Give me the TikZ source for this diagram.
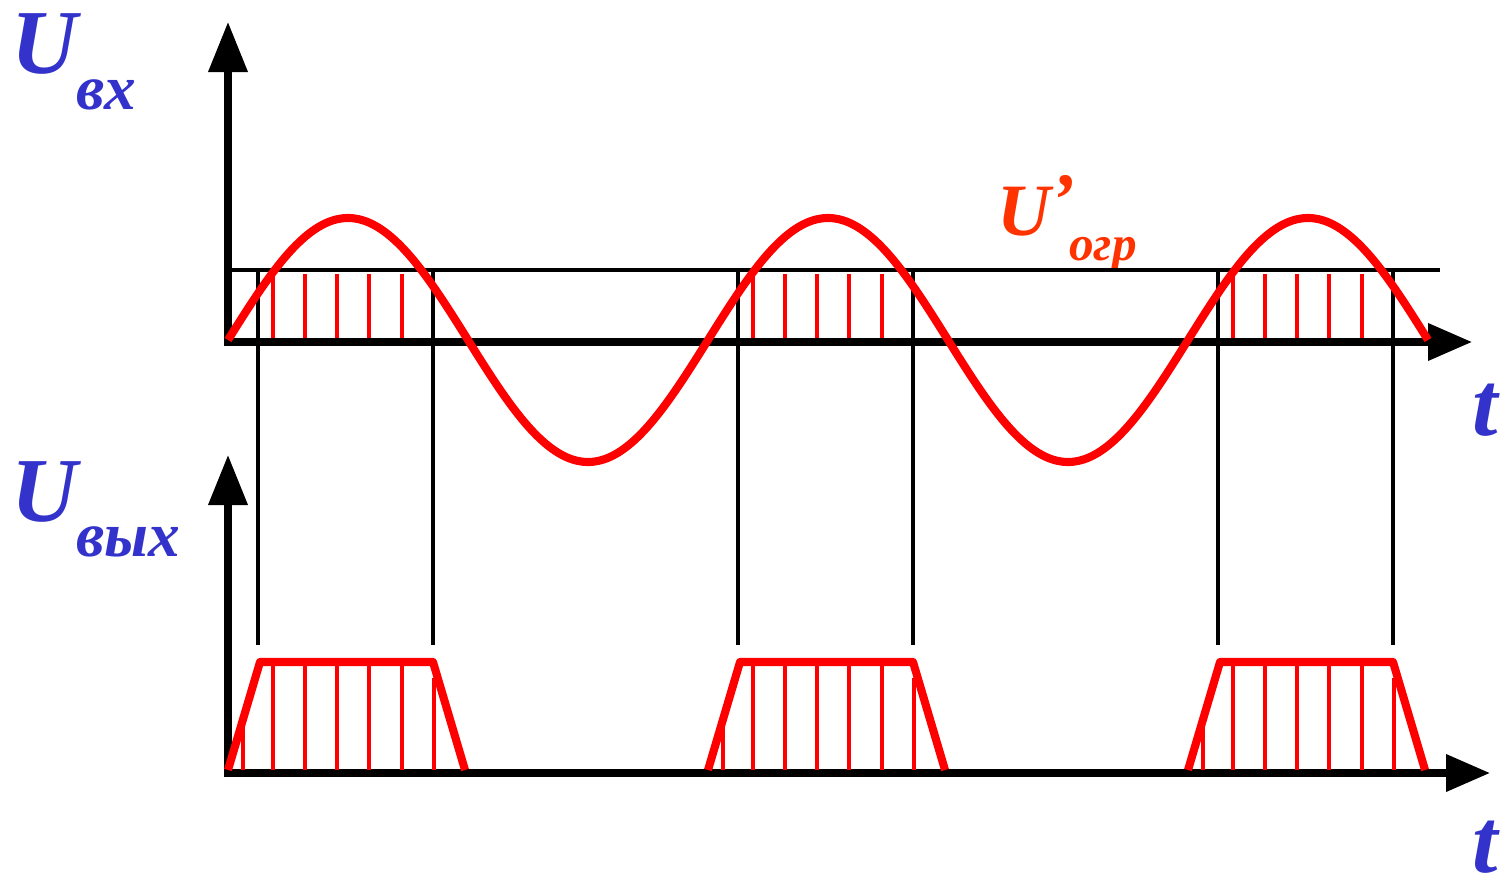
\documentclass[tikz,border=0pt]{standalone}
\usepackage{fontspec}
\setmainfont{Liberation Serif}
\usetikzlibrary{arrows.meta}
\definecolor{labelblue}{RGB}{51,51,204}
\definecolor{limitred}{RGB}{255,51,0}

\begin{document}
\begin{tikzpicture}[x=0.01cm, y=-0.01cm,
		axis/.style={line width=2pt, {Triangle[length=5mm, width=3.8mm]}-{Triangle[length=4.4mm, width=3.6mm]}},
		level/.style={line width=0.9pt},
		marker/.style={line width=1.2pt},
		signal/.style={line width=2.3pt, red, line join=round},
		hatch/.style={line width=1.3pt, red},
		biglabel/.style={inner sep=0pt, text=labelblue, font=\fontsize{26}{26}\selectfont\bfseries\itshape},
		sublabel/.style={inner sep=0pt, text=labelblue, font=\fontsize{18}{18}\selectfont\bfseries\itshape},
		limitlabel/.style={inner sep=0pt, text=limitred, font=\fontsize{21}{21}\selectfont\bfseries\itshape},
		limitsub/.style={inner sep=0pt, text=limitred, font=\fontsize{14}{14}\selectfont\bfseries\itshape}
		]
		\useasboundingbox (0,0) rectangle (1504,885);
		
		% Labels
		\node[biglabel] (uin) at (45,44) {U};
		\node[sublabel] (uinsub) at (106,95) {вх};
		\node[biglabel] (uout) at (45,492) {U};
		\node[sublabel] (uoutsub) at (128,542) {вых};
		\node[biglabel] (tin) at (1485,410) {t};
		\node[biglabel] (tout) at (1485,847) {t};
		\node[limitlabel] (ulim) at (1036,206) {U\raisebox{3pt}{’}};
		\node[limitsub] (ulimsub) at (1103,254) {огр};
		
		% Axes
		\draw[axis] (228,22) -- (228,342) -- (1472,342);
		\draw[axis] (228,455) -- (228,773) -- (1490,773);
		
		% Limit level
		\draw[level] (230,270) -- (1440,270);
		
		% Markers down to the output
		\draw[marker] (258,270) -- (258,645) (433,270) -- (433,645);
		\draw[marker] (738,270) -- (738,645) (913,270) -- (913,645);
		\draw[marker] (1218,270) -- (1218,645) (1393,270) -- (1393,645);
		
		% Hatching above the limit
		\draw[hatch] (273,274) -- (273,338) (305,274) -- (305,338) (337,274) -- (337,338) (369,274) -- (369,338) (402,274) -- (402,338);
		\draw[hatch] (753,274) -- (753,338) (785,274) -- (785,338) (817,274) -- (817,338) (849,274) -- (849,338) (882,274) -- (882,338);
		\draw[hatch] (1233,274) -- (1233,338) (1265,274) -- (1265,338) (1297,274) -- (1297,338) (1329,274) -- (1329,338) (1362,274) -- (1362,338);
		
		% Input sine
		\draw[signal] plot[domain=228:1428, samples=241, smooth] (\x, {340 - 122*sin(0.75*(\x-228))});
		
		% Output pulses
		\draw[hatch] (243,725) -- (243,770) (273,662) -- (273,770) (305,662) -- (305,770) (337,662) -- (337,770) (369,662) -- (369,770) (402,662) -- (402,770) (434,678) -- (434,770);
		\draw[hatch] (723,725) -- (723,770) (753,662) -- (753,770) (785,662) -- (785,770) (817,662) -- (817,770) (849,662) -- (849,770) (882,662) -- (882,770) (914,678) -- (914,770);
		\draw[hatch] (1203,725) -- (1203,770) (1233,662) -- (1233,770) (1265,662) -- (1265,770) (1297,662) -- (1297,770) (1329,662) -- (1329,770) (1362,662) -- (1362,770) (1394,678) -- (1394,770);
		\draw[signal] (228,770) -- (260,662) -- (433,662) -- (465,770);
		\draw[signal] (708,770) -- (740,662) -- (913,662) -- (945,770);
		\draw[signal] (1188,770) -- (1220,662) -- (1393,662) -- (1425,770);
		
	\end{tikzpicture}
\end{document}
